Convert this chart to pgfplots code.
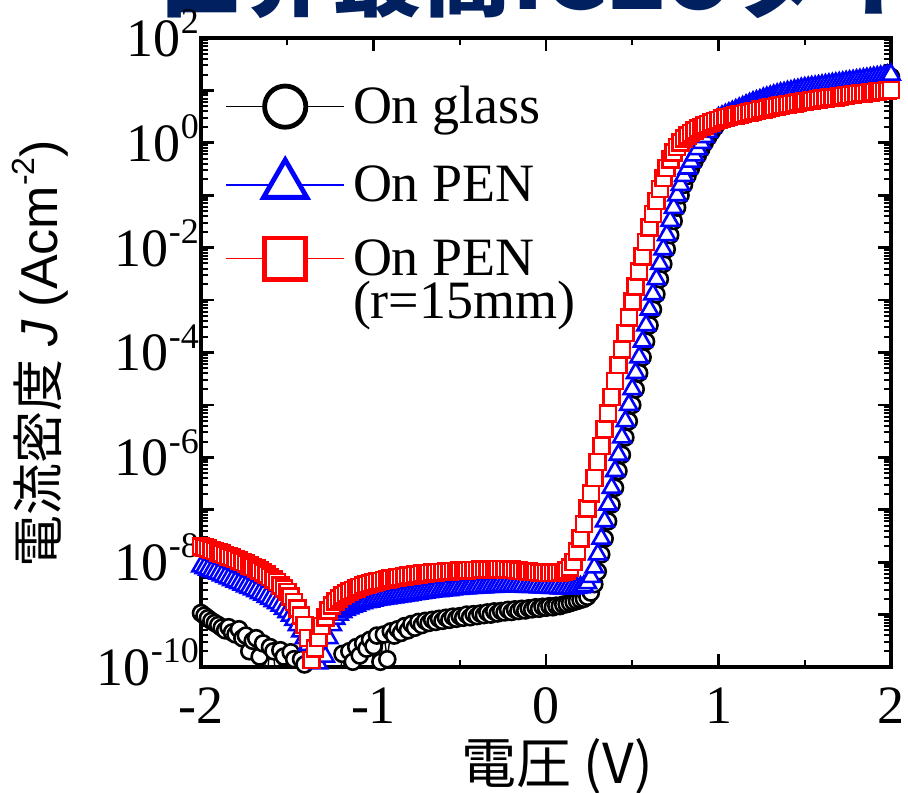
\documentclass[border=0pt]{standalone}
\usepackage{fontspec}
\usepackage{pgfplots}
\usepackage{pgfplotstable}
\pgfplotsset{compat=1.18}
\setmainfont{Liberation Serif}
\setsansfont{Liberation Sans}
\newfontfamily\jp{Noto Sans CJK JP}
\definecolor{titleblue}{RGB}{0,32,96}
\newcommand\sups[1]{\raisebox{0.42em}{\fontsize{18}{18}\selectfont #1}}

\pgfplotstableread{
x G B R
-2.00 1.07e-9 8.32e-9 2.00e-8
-1.98 9.55e-10 7.76e-9 1.91e-8
-1.96 8.51e-10 7.24e-9 1.82e-8
-1.94 7.59e-10 6.76e-9 1.70e-8
-1.92 6.92e-10 6.46e-9 1.62e-8
-1.90 6.31e-10 6.03e-9 1.55e-8
-1.88 5.62e-10 5.62e-9 1.45e-8
-1.86 5.01e-10 5.25e-9 1.38e-8
-1.84 5.75e-10 4.90e-9 1.29e-8
-1.82 4.57e-10 4.57e-9 1.23e-8
-1.80 4.17e-10 4.27e-9 1.15e-8
-1.78 5.25e-10 3.98e-9 1.07e-8
-1.76 3.55e-10 3.72e-9 1.00e-8
-1.74 3.98e-10 3.47e-9 9.33e-9
-1.72 2.00e-10 3.24e-9 8.71e-9
-1.70 3.16e-10 3.02e-9 8.13e-9
-1.68 3.55e-10 2.82e-9 7.59e-9
-1.66 1.58e-10 2.57e-9 6.92e-9
-1.64 2.82e-10 2.40e-9 6.31e-9
-1.62 5.01e-11 2.19e-9 5.75e-9
-1.60 2.40e-10 2.00e-9 5.25e-9
-1.58 2.00e-10 1.82e-9 4.68e-9
-1.56 3.16e-11 1.66e-9 4.17e-9
-1.54 2.09e-10 1.48e-9 3.63e-9
-1.52 1.58e-10 1.29e-9 3.16e-9
-1.50 3.98e-11 1.12e-9 2.69e-9
-1.48 1.91e-10 9.55e-10 2.19e-9
-1.46 1.41e-10 7.94e-10 1.74e-9
-1.44 2.51e-11 6.31e-10 1.32e-9
-1.42 1.41e-10 4.79e-10 9.55e-10
-1.40 1.12e-10 3.55e-10 6.31e-10
-1.38 1.58e-11 2.63e-10 3.55e-10
-1.36 1.26e-11 2.00e-10 1.35e-10
-1.34 3.16e-11 1.51e-10 2.24e-10
-1.32 1.00e-11 1.17e-10 3.55e-10
-1.30 2.51e-11 8.91e-11 6.03e-10
-1.28 5.01e-11 1.58e-10 8.91e-10
-1.26 6.31e-11 3.55e-10 1.20e-9
-1.24 2.00e-11 6.31e-10 1.51e-9
-1.22 7.94e-11 8.32e-10 1.78e-9
-1.20 3.98e-11 1.00e-9 2.04e-9
-1.18 1.78e-10 1.12e-9 2.29e-9
-1.16 6.31e-11 1.23e-9 2.51e-9
-1.14 2.00e-10 1.32e-9 2.75e-9
-1.12 1.26e-10 1.41e-9 2.95e-9
-1.10 2.40e-10 1.48e-9 3.16e-9
-1.08 1.66e-10 1.58e-9 3.39e-9
-1.06 2.82e-10 1.66e-9 3.55e-9
-1.04 2.24e-10 1.74e-9 3.72e-9
-1.02 3.31e-10 1.78e-9 3.89e-9
-1.00 2.51e-10 1.86e-9 4.07e-9
-0.98 3.98e-10 1.91e-9 4.27e-9
-0.96 1.26e-10 1.95e-9 4.37e-9
-0.94 4.17e-10 2.00e-9 4.57e-9
-0.92 1.41e-10 2.04e-9 4.68e-9
-0.90 4.79e-10 2.09e-9 4.90e-9
-0.88 3.98e-10 2.14e-9 5.01e-9
-0.86 5.25e-10 2.19e-9 5.13e-9
-0.84 4.47e-10 2.24e-9 5.25e-9
-0.82 6.03e-10 2.29e-9 5.37e-9
-0.80 5.01e-10 2.34e-9 5.50e-9
-0.78 6.61e-10 2.40e-9 5.62e-9
-0.76 5.62e-10 2.45e-9 5.75e-9
-0.74 7.24e-10 2.51e-9 5.89e-9
-0.72 6.31e-10 2.57e-9 6.03e-9
-0.70 7.59e-10 2.63e-9 6.03e-9
-0.68 6.92e-10 2.69e-9 6.17e-9
-0.66 7.94e-10 2.75e-9 6.31e-9
-0.64 7.24e-10 2.82e-9 6.31e-9
-0.62 8.32e-10 2.82e-9 6.46e-9
-0.60 7.59e-10 2.88e-9 6.46e-9
-0.58 8.71e-10 2.95e-9 6.61e-9
-0.56 7.94e-10 2.95e-9 6.61e-9
-0.54 9.12e-10 3.02e-9 6.76e-9
-0.52 8.32e-10 3.09e-9 6.76e-9
-0.50 9.33e-10 3.09e-9 6.92e-9
-0.48 8.71e-10 3.16e-9 6.92e-9
-0.46 1.00e-9 3.16e-9 6.92e-9
-0.44 8.91e-10 3.24e-9 7.08e-9
-0.42 1.02e-9 3.24e-9 7.08e-9
-0.40 9.33e-10 3.31e-9 7.08e-9
-0.38 1.05e-9 3.31e-9 7.24e-9
-0.36 9.77e-10 3.31e-9 7.24e-9
-0.34 1.10e-9 3.39e-9 7.24e-9
-0.32 1.00e-9 3.39e-9 7.24e-9
-0.30 1.15e-9 3.39e-9 7.24e-9
-0.28 1.05e-9 3.47e-9 7.41e-9
-0.26 1.17e-9 3.47e-9 7.41e-9
-0.24 1.10e-9 3.47e-9 7.41e-9
-0.22 1.23e-9 3.47e-9 7.24e-9
-0.20 1.12e-9 3.47e-9 7.24e-9
-0.18 1.26e-9 3.47e-9 7.08e-9
-0.16 1.17e-9 3.47e-9 6.92e-9
-0.14 1.29e-9 3.47e-9 6.76e-9
-0.12 1.20e-9 3.39e-9 6.76e-9
-0.10 1.32e-9 3.39e-9 6.61e-9
-0.08 1.26e-9 3.39e-9 6.46e-9
-0.06 1.38e-9 3.39e-9 6.46e-9
-0.04 1.29e-9 3.31e-9 6.31e-9
-0.02 1.41e-9 3.31e-9 6.31e-9
0.00 1.35e-9 3.31e-9 6.17e-9
0.02 1.45e-9 3.24e-9 6.17e-9
0.04 1.38e-9 3.24e-9 6.17e-9
0.06 1.48e-9 3.24e-9 6.17e-9
0.08 1.45e-9 3.16e-9 6.31e-9
0.10 1.55e-9 3.16e-9 6.46e-9
0.12 1.58e-9 3.16e-9 6.92e-9
0.14 1.66e-9 3.16e-9 7.94e-9
0.16 1.74e-9 3.16e-9 1.00e-8
0.18 1.82e-9 3.24e-9 1.58e-8
0.20 1.91e-9 3.31e-9 2.82e-8
0.22 2.00e-9 3.47e-9 5.37e-8
0.24 2.19e-9 3.98e-9 1.05e-7
0.26 2.63e-9 5.25e-9 2.04e-7
0.28 3.80e-9 7.94e-9 4.07e-7
0.30 6.61e-9 1.41e-8 8.13e-7
0.32 1.41e-8 2.82e-8 1.66e-6
0.34 2.82e-8 6.03e-8 3.47e-6
0.36 6.03e-8 1.26e-7 6.92e-6
0.38 1.26e-7 2.63e-7 1.41e-5
0.40 2.63e-7 5.50e-7 2.88e-5
0.42 5.50e-7 1.12e-6 5.75e-5
0.44 1.12e-6 2.40e-6 1.15e-4
0.46 2.40e-6 4.90e-6 2.34e-4
0.48 4.90e-6 1.00e-5 4.68e-4
0.50 1.00e-5 2.00e-5 9.33e-4
0.52 2.00e-5 4.07e-5 1.82e-3
0.54 4.07e-5 8.13e-5 3.55e-3
0.56 8.13e-5 1.62e-4 6.76e-3
0.58 1.62e-4 3.31e-4 1.29e-2
0.60 3.31e-4 6.61e-4 2.40e-2
0.62 6.61e-4 1.29e-3 4.37e-2
0.64 1.29e-3 2.51e-3 7.76e-2
0.66 2.51e-3 4.90e-3 1.32e-1
0.68 4.90e-3 9.33e-3 2.14e-1
0.70 9.33e-3 1.74e-2 3.31e-1
0.72 1.74e-2 3.24e-2 4.79e-1
0.74 3.24e-2 5.75e-2 6.46e-1
0.76 5.82e-2 1.00e-1 8.32e-1
0.78 1.00e-1 1.58e-1 1.02
0.80 1.58e-1 2.34e-1 1.20
0.82 2.34e-1 3.24e-1 1.38
0.84 3.24e-1 4.37e-1 1.55
0.86 4.37e-1 5.75e-1 1.70
0.88 5.75e-1 7.59e-1 1.86
0.90 7.59e-1 1.00 2.00
0.92 1.00 1.29 2.14
0.94 1.29 1.62 2.29
0.96 1.62 2.00 2.45
0.98 2.00 2.45 2.63
1.00 2.45 2.95 2.75
1.02 2.88 3.16 2.88
1.04 3.09 3.39 3.02
1.06 3.31 3.63 3.09
1.08 3.55 3.89 3.24
1.10 3.80 4.17 3.31
1.12 4.07 4.47 3.47
1.14 4.37 4.79 3.55
1.16 4.68 5.13 3.72
1.18 5.01 5.50 3.80
1.20 5.37 5.89 3.98
1.22 5.62 6.17 4.07
1.24 5.89 6.46 4.27
1.26 6.31 6.92 4.37
1.28 6.61 7.24 4.57
1.30 6.92 7.59 4.68
1.32 7.24 7.94 4.79
1.34 7.59 8.32 4.90
1.36 7.94 8.71 5.13
1.38 8.13 8.91 5.25
1.40 8.51 9.33 5.37
1.42 8.71 9.55 5.50
1.44 9.12 10.0 5.62
1.46 9.33 10.2 5.89
1.48 9.77 10.7 6.03
1.50 10.0 11.0 6.17
1.52 10.2 11.2 6.31
1.54 10.5 11.5 6.46
1.56 10.7 11.7 6.61
1.58 11.0 12.0 6.76
1.60 11.2 12.3 6.92
1.62 11.5 12.6 7.08
1.64 11.7 12.9 7.24
1.66 12.0 13.2 7.24
1.68 12.3 13.5 7.41
1.70 12.6 13.8 7.59
1.72 12.9 14.1 7.76
1.74 13.2 14.5 7.94
1.76 13.5 14.8 8.13
1.78 13.8 15.1 8.32
1.80 14.1 15.5 8.51
1.82 14.5 15.8 8.71
1.84 14.8 16.2 8.71
1.86 15.1 16.6 8.91
1.88 15.5 17.0 9.12
1.90 15.8 17.4 9.33
1.92 16.2 17.8 9.55
1.94 16.6 18.2 9.77
1.96 17.0 18.6 9.77
1.98 17.4 19.1 10.0
2.00 18.2 20.0 10.2
}\datatable

\begin{document}
\begin{tikzpicture}
\useasboundingbox (0pt,0pt) rectangle (454pt,396pt);
\begin{scope}
\clip (0pt,0pt) rectangle (454pt,396pt);
\node[anchor=base west, inner sep=0pt, text=titleblue, font=\jp\bfseries\fontsize{45}{45}\selectfont] at (76pt,391pt) {世界最高IGZOダイオード};
\end{scope}
\begin{axis}[
  at={(100.5pt,62.5pt)}, anchor=south west,
  scale only axis, width=345pt, height=314.5pt,
  xmin=-2, xmax=2, ymin=1e-10, ymax=1e2, ymode=log,
  xtick={-2,-1,0,1,2}, xticklabels={-2,-1,0,1,2},
  minor x tick num=1,
  ytick={1e-10,1e-9,1e-8,1e-7,1e-6,1e-5,1e-4,1e-3,1e-2,1e-1,1,1e1,1e2},
  yticklabels={10\sups{-10},,10\sups{-8},,10\sups{-6},,10\sups{-4},,10\sups{-2},,10\sups{0},,10\sups{2}},
  xtick pos=both, ytick pos=both, xticklabel pos=lower, yticklabel pos=left,
  tick align=inside,
  major tick length=6.5pt, minor tick length=3.5pt,
  every major tick/.append style={line width=1.4pt, black},
  every minor tick/.append style={line width=1pt, black},
  axis line style={line width=2pt},
  tick label style={font=\fontsize{27}{27}\selectfont},
  xticklabel style={anchor=north, yshift=-7pt},
  yticklabel style={anchor=base east, xshift=2.5pt, yshift=-9.2pt},
  xlabel={{\jp 電圧 (V)}},
  xlabel style={at={(axis description cs:0.516,-0.158)}, anchor=center, font=\fontsize{27.5}{27.5}\selectfont},
  ylabel={{\jp 電流密度} {\sffamily\itshape J} {\sffamily (Acm\raisebox{0.45em}{\fontsize{16}{16}\selectfont -2})}},
  ylabel style={at={(axis description cs:-0.2333,0.498)}, anchor=center, font=\fontsize{26}{26}\selectfont},
  legend image code/.code={\draw[mark repeat=2,mark phase=2,#1] plot coordinates {(0pt,0pt) (29.5pt,0pt) (59pt,0pt)};},
  legend style={draw=none, fill=none, at={(axis description cs:0,1)}, anchor=north west, xshift=12pt, yshift=-23pt, inner sep=0pt, row sep=15.5pt, column sep=3pt, nodes={inner sep=1pt}, font=\fontsize{27}{23.5}\selectfont},
  legend cell align=left,
]
\addlegendimage{black, line width=0.8pt, mark=*, mark size=10.3pt, mark options={fill=white, line width=2.4pt, solid}}
\addlegendentry{On glass}
\addlegendimage{blue, line width=0.8pt, mark=triangle*, mark size=12.5pt, mark options={fill=white, line width=2.4pt, solid}}
\addlegendentry{On PEN}
\addlegendimage{red, line width=0.8pt, mark=square*, mark size=10.3pt, mark options={fill=white, line width=2.4pt, solid}}
\addlegendentry{{\begin{tabular}[t]{@{}l@{}}On PEN\\[-4pt](r=15mm)\end{tabular}}}

\addplot[forget plot, black, line width=0.7pt, mark=*, mark size=4.0pt, mark options={fill=white, line width=1.3pt}] table[x=x, y=G] {\datatable};
\addplot[forget plot, blue, line width=0.7pt, mark=triangle*, mark size=5.0pt, mark options={fill=white, line width=1.3pt}] table[x=x, y=B] {\datatable};
\addplot[forget plot, red, line width=0.7pt, mark=square*, mark size=4.0pt, mark options={fill=white, line width=1.3pt}] table[x=x, y=R] {\datatable};
\end{axis}
\end{tikzpicture}
\end{document}
